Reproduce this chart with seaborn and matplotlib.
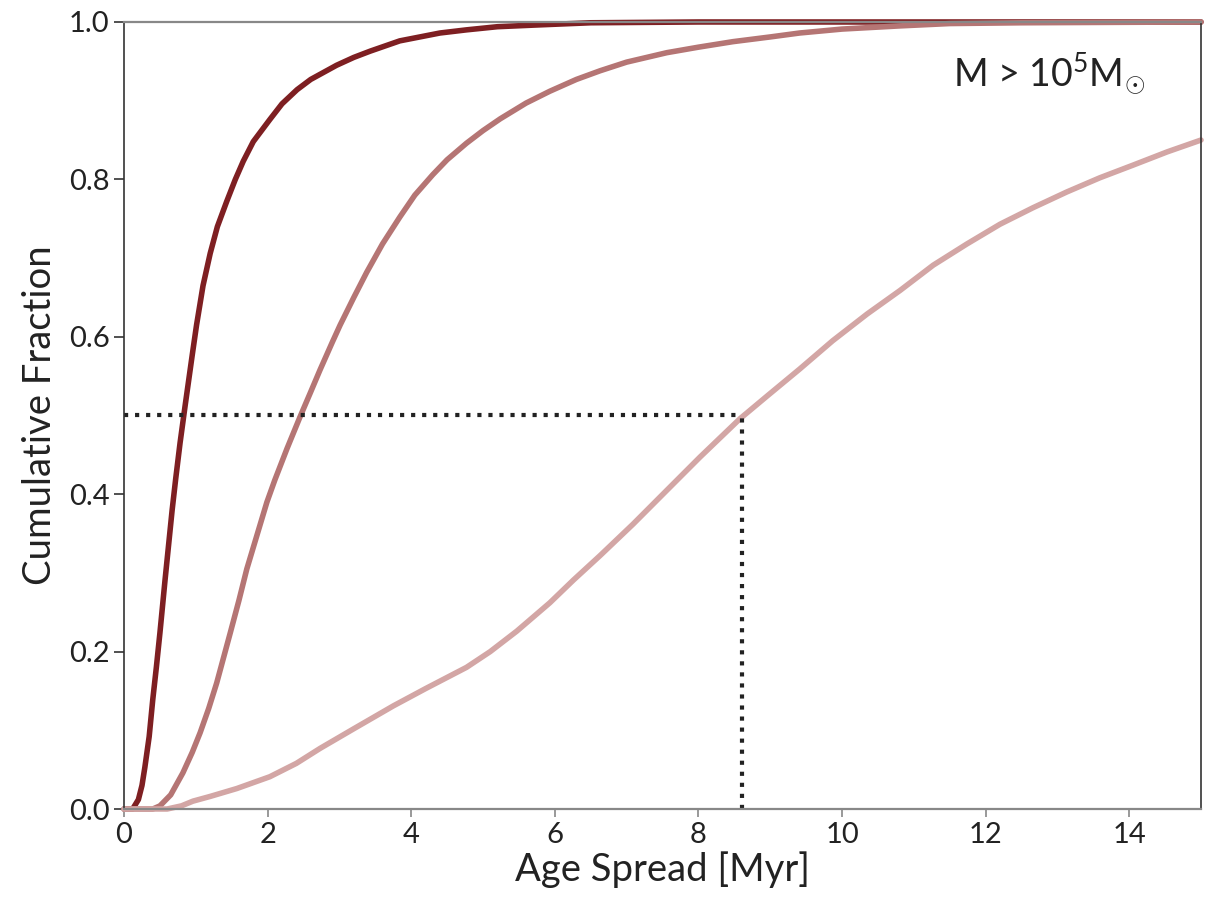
import numpy as np
import pandas as pd
import matplotlib
matplotlib.use("Agg")
import matplotlib.pyplot as plt
import seaborn as sns

# cumulative age-spread curves
x_dark = [0.0, 0.12, 0.20, 0.25, 0.29, 0.35, 0.40, 0.45, 0.50, 0.57, 0.62, 0.67, 0.72, 0.78, 0.85, 0.95,
          1.01, 1.10, 1.20, 1.30, 1.43, 1.55, 1.66, 1.80, 2.03, 2.20, 2.41, 2.60, 2.96, 3.20, 3.43, 3.84,
          4.40, 4.77, 5.20, 5.70, 6.50, 8.0, 15.0]
y_dark = [0.0, 0.0, 0.012, 0.030, 0.053, 0.092, 0.139, 0.180, 0.224, 0.290, 0.335, 0.380, 0.420, 0.465, 0.512, 0.577,
          0.615, 0.665, 0.706, 0.740, 0.772, 0.800, 0.823, 0.848, 0.876, 0.896, 0.914, 0.927, 0.945, 0.955, 0.963, 0.976,
          0.986, 0.990, 0.994, 0.996, 0.999, 1.0, 1.0]

x_mid = [0.0, 0.40, 0.50, 0.65, 0.82, 0.95, 1.06, 1.18, 1.29, 1.48, 1.60, 1.71, 1.99, 2.10, 2.27, 2.45, 2.60,
         2.73, 2.90, 3.01, 3.20, 3.38, 3.60, 3.84, 4.05, 4.30, 4.50, 4.77, 5.00, 5.24, 5.60, 5.93, 6.30, 6.63,
         7.00, 7.56, 8.00, 8.48, 9.00, 9.41, 10.0, 10.8, 11.5, 12.5, 15.0]
y_mid = [0.0, 0.0, 0.004, 0.018, 0.046, 0.072, 0.097, 0.128, 0.160, 0.224, 0.265, 0.305, 0.390, 0.418, 0.458, 0.498, 0.530,
         0.558, 0.593, 0.615, 0.650, 0.682, 0.718, 0.752, 0.780, 0.806, 0.825, 0.846, 0.862, 0.877, 0.897, 0.912, 0.927, 0.938,
         0.949, 0.961, 0.968, 0.975, 0.981, 0.986, 0.991, 0.995, 0.998, 0.999, 1.0]

x_light = [0.0, 0.60, 0.80, 0.96, 1.20, 1.57, 2.03, 2.40, 2.73, 3.20, 3.75, 4.20, 4.77, 5.10, 5.47, 5.93, 6.26,
           6.63, 7.09, 7.56, 8.02, 8.58, 8.96, 9.41, 9.87, 10.35, 10.81, 11.27, 11.74, 12.2, 12.66, 13.13,
           13.59, 14.05, 14.53, 15.0]
y_light = [0.0, 0.0, 0.004, 0.010, 0.016, 0.026, 0.041, 0.058, 0.077, 0.102, 0.131, 0.153, 0.180, 0.200, 0.226, 0.262, 0.291,
           0.322, 0.362, 0.405, 0.447, 0.496, 0.525, 0.559, 0.595, 0.629, 0.659, 0.691, 0.718, 0.743, 0.764, 0.784,
           0.802, 0.818, 0.835, 0.850]

groups = ["dark", "mid", "light"]
palette = {"dark": "#7e1f22", "mid": "#b57574", "light": "#d3a6a5"}

median_x = 8.6
median_y = 0.5
label_text = r"M > 10$^5$M$_{\odot}$"

df = pd.concat([
    pd.DataFrame({"x": x_dark, "y": y_dark, "g": "dark"}),
    pd.DataFrame({"x": x_mid, "y": y_mid, "g": "mid"}),
    pd.DataFrame({"x": x_light, "y": y_light, "g": "light"}),
], ignore_index=True)

sns.set_theme(style="white")
plt.rcParams["font.family"] = ["Lato", "DejaVu Sans"]
plt.rcParams["mathtext.fontset"] = "custom"
plt.rcParams["mathtext.rm"] = "Lato"
plt.rcParams["mathtext.it"] = "Lato"

fig = plt.figure(figsize=(12.09, 9.01), dpi=100)
ax = fig.add_axes([0.1026, 0.1021, 0.8908, 0.8735])

sns.lineplot(data=df, x="x", y="y", hue="g", hue_order=groups, palette=palette,
             linewidth=4.0, legend=False, ax=ax, estimator=None, sort=False)
for l in ax.lines:
    l.set_clip_on(False)
    l.set_solid_joinstyle("round")

# median markers
ax.plot([0, median_x], [median_y, median_y], color="#222222", linestyle=":", linewidth=3.0)
ax.plot([median_x, median_x], [0, median_y], color="#222222", linestyle=":", linewidth=3.0)

ax.text(12.88, 0.935, label_text, fontsize=27, color="#222222", ha="center", va="center")

ax.set_xlim(0, 15)
ax.set_ylim(0, 1)
ax.set_xticks(range(0, 15, 2))
ax.set_yticks([0, 0.2, 0.4, 0.6, 0.8, 1.0])
ax.set_yticklabels(["0.0", "0.2", "0.4", "0.6", "0.8", "1.0"])
ax.set_xlabel("Age Spread [Myr]", fontsize=27.5, color="#222222", labelpad=2)
ax.set_ylabel("Cumulative Fraction", fontsize=27.5, color="#222222", labelpad=8)

ax.tick_params(axis="both", labelsize=21, colors="#222222", direction="out", length=7, width=1.2)
ax.tick_params(axis="x", color="#888888", length=6)
ax.tick_params(axis="y", color="#333333")
ax.xaxis.set_ticks_position("bottom")
ax.yaxis.set_ticks_position("left")

for side in ["left", "right"]:
    ax.spines[side].set_color("#333333")
    ax.spines[side].set_linewidth(1.2)
for side in ["top", "bottom"]:
    ax.spines[side].set_color("#888888")
    ax.spines[side].set_linewidth(1.6)

fig.savefig("out.png", dpi=100)
